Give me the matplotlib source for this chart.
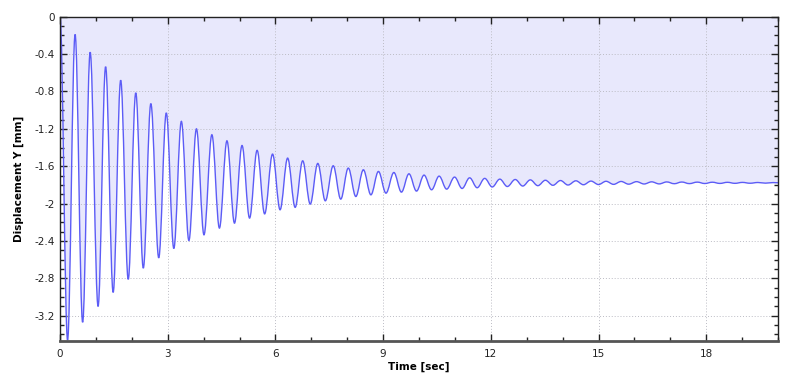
import matplotlib
matplotlib.use("Agg")
import matplotlib.pyplot as plt
from matplotlib.path import Path
from matplotlib.patches import PathPatch
from matplotlib.ticker import MultipleLocator, FormatStrFormatter

# turning points of the response (time in sec, displacement in mm)
ext_time = [
    0.00, 0.21, 0.42, 0.63, 0.84, 1.06, 1.27, 1.48, 1.69, 1.90, 2.11,
    2.32, 2.53, 2.75, 2.96, 3.17, 3.38, 3.59, 3.80, 4.01, 4.23,
    4.44, 4.65, 4.86, 5.07, 5.28, 5.49, 5.70, 5.92, 6.13, 6.34,
    6.55, 6.76, 6.97, 7.18, 7.39, 7.61, 7.82, 8.03, 8.24, 8.45,
    8.66, 8.87, 9.08, 9.30, 9.51, 9.72, 9.93, 10.14, 10.35, 10.56,
    10.77, 10.99, 11.20, 11.41, 11.62, 11.83, 12.04, 12.25, 12.46, 12.68,
    12.89, 13.10, 13.31, 13.52, 13.73, 13.94, 14.15, 14.37, 14.58, 14.79,
    15.00, 15.21, 15.42, 15.63, 15.84, 16.06, 16.27, 16.48, 16.69, 16.90,
    17.11, 17.32, 17.53, 17.75, 17.96, 18.17, 18.38, 18.59, 18.80, 19.01,
    19.22, 19.44, 19.65, 19.86, 20.00,
]
ext_disp = [
    0.0, -3.46, -0.19, -3.27, -0.38, -3.10, -0.535, -2.95, -0.68, -2.81, -0.815,
    -2.69, -0.93, -2.58, -1.03, -2.48, -1.12, -2.395, -1.20, -2.334, -1.263,
    -2.262, -1.328, -2.209, -1.378, -2.155, -1.43, -2.11, -1.47, -2.066, -1.513,
    -2.04, -1.542, -2.005, -1.57, -1.97, -1.595, -1.952, -1.62, -1.924, -1.638,
    -1.906, -1.656, -1.888, -1.667, -1.877, -1.681, -1.866, -1.695, -1.852, -1.706,
    -1.845, -1.716, -1.838, -1.724, -1.83, -1.73, -1.822, -1.738, -1.817, -1.742,
    -1.812, -1.746, -1.808, -1.75, -1.804, -1.753, -1.801, -1.756, -1.798, -1.759,
    -1.796, -1.761, -1.794, -1.763, -1.792, -1.765, -1.790, -1.767, -1.789, -1.768,
    -1.787, -1.769, -1.786, -1.770, -1.785, -1.771, -1.784, -1.772, -1.783, -1.773,
    -1.782, -1.774, -1.781, -1.775, -1.777,
]

x_ticks = [0, 3, 6, 9, 12, 15, 18]
x_max = 20.0
y_min = -3.47

plt.rcParams["axes.unicode_minus"] = False
plt.rcParams["font.family"] = ["DejaVu Sans"]


def smooth_path(xs, ys, k=0.36):
    # cubic bezier through the turning points with flat tangents at each one
    verts = [(xs[0], ys[0])]
    codes = [Path.MOVETO]
    for i in range(1, len(xs)):
        dx = xs[i] - xs[i - 1]
        verts += [(xs[i - 1] + k * dx, ys[i - 1]), (xs[i] - k * dx, ys[i]), (xs[i], ys[i])]
        codes += [Path.CURVE4] * 3
    return verts, codes


fig = plt.figure(figsize=(8.1, 3.84), dpi=100)
ax = fig.add_axes([0.0741, 0.112, 0.8864, 0.8445])

verts, codes = smooth_path(ext_time, ext_disp)

# shaded area between zero and the curve
fill_verts = verts + [(ext_time[-1], 0.0), (ext_time[0], 0.0), (ext_time[0], ext_disp[0])]
fill_codes = codes + [Path.LINETO, Path.LINETO, Path.CLOSEPOLY]
ax.add_patch(PathPatch(Path(fill_verts, fill_codes), facecolor="#e8e8fc",
                       edgecolor="none", zorder=0.5))
ax.add_patch(PathPatch(Path(verts, codes), facecolor="none", edgecolor="#5c5cf6",
                       linewidth=1.0, zorder=2))

ax.set_xlim(0, x_max)
ax.set_ylim(y_min, 0)

ax.set_xticks(x_ticks)
ax.xaxis.set_minor_locator(MultipleLocator(1))
ax.yaxis.set_major_locator(MultipleLocator(0.4))
ax.yaxis.set_minor_locator(MultipleLocator(0.1))
ax.yaxis.set_major_formatter(FormatStrFormatter("%g"))

ax.grid(True, which="major", linestyle=(0, (1, 2)), color="#bcbcc4", linewidth=0.7)
ax.tick_params(which="both", direction="in", top=True, right=True,
               colors="#222222", labelsize=7.5, width=1)
ax.tick_params(which="major", length=5)
ax.tick_params(which="minor", length=3)
ax.tick_params(axis="x", pad=6)

for side in ["left", "top", "right"]:
    ax.spines[side].set_color("#222222")
    ax.spines[side].set_linewidth(1.0)
ax.spines["bottom"].set_color("#555555")
ax.spines["bottom"].set_linewidth(2.0)

ax.set_xlabel("Time [sec]", fontsize=7.5, fontweight="bold", labelpad=2)
ax.set_ylabel("Displacement Y [mm]", fontsize=7.5, fontweight="bold", labelpad=8)

fig.savefig("out.png", dpi=100)
plt.close(fig)
